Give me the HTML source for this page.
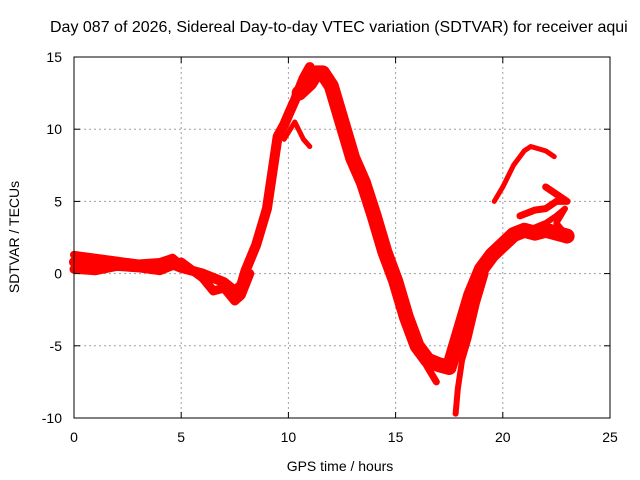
<!DOCTYPE html>
<html><head><meta charset="utf-8"><style>
body{margin:0;background:#fff}
svg{display:block;font-family:"Liberation Sans",sans-serif}
</style></head><body>
<svg id="c" width="640" height="480">
<text x="50" y="32" font-size="16">Day 087 of 2026, Sidereal Day-to-day VTEC variation (SDTVAR) for receiver aqui</text>
<text x="340" y="471" font-size="14" text-anchor="middle">GPS time / hours</text>
<text transform="translate(19,237) rotate(-90)" font-size="14" text-anchor="middle">SDTVAR / TECUs</text>
<g id="grid"></g><g id="data"></g><g id="axes"></g>
</svg>
<script>
const xTicks=[0,5,10,15,20,25];
const yTicks=[-10,-5,0,5,10,15];
const mainTrace=[[0,0.8],[1,0.7],[2,0.6],[3,0.5],[4,0.6],[4.5,0.7],[5,0.4],[6,0],[6.5,-0.3],[7,-0.6],[7.5,-1.2],[7.8,-0.8],[8,0.2],[8.5,2],[9,4.5],[9.3,7.5],[9.5,9.5],[9.8,10.3],[10,11],[10.3,12],[10.7,13.5],[11,14.3]];
const highBand=[[0,1.3],[1,1.1],[2,0.9],[3,0.7],[4,0.8],[4.6,1.1],[5,0.6]];
const descentTrace=[[10.5,12.5],[11,13.2],[11.3,13.9],[11.6,13.9],[12,13],[12.3,11.5],[12.7,9.5],[13,8],[13.5,6.3],[14,4],[14.5,1.5],[15,-0.5],[15.5,-3],[16,-5],[16.5,-6],[17,-6.3],[17.5,-6.5],[18,-4],[18.5,-1.5],[19,0.3],[19.5,1.3],[20,2],[20.5,2.7],[21,3],[21.5,2.8],[22,3],[22.5,2.8],[23,2.6]];
const lowBand=[[0,0.3],[1,0.2],[2,0.5],[3,0.4],[4,0.2],[5,0.8],[6,-0.3],[6.5,-1.2],[7,-1],[7.5,-1.9],[7.8,-1.5],[8.2,0]];
const branch10=[[9.8,9.3],[10.3,10.5],[10.7,9.3],[11,8.8]];
const branchMin=[[16,-5.2],[16.5,-6.5],[16.9,-7.5]];
const branchDip=[[17.8,-9.7],[17.9,-8],[18.1,-6],[18.4,-4.5],[18.8,-2],[19.2,0]];
const upperRight=[[19.6,5],[20,6],[20.5,7.5],[21,8.5],[21.3,8.8],[22,8.5],[22.4,8.1]];
const midRight=[[20.8,4],[21.5,4.4],[22,4.5],[22.5,5],[23,5],[22.5,5.5],[22,6]];
const loopRight=[[21.5,3.2],[22,3.5],[22.5,4],[22.9,4.5],[22.5,3.5],[23,2.6]];
const series=[[mainTrace,10],[highBand,8],[descentTrace,15],[lowBand,9],[branch10,5],[branchMin,7],[branchDip,6],[upperRight,5],[midRight,7],[loopRight,6]];
const X=h=>74+h*536/25, Y=v=>418-(v+10)*361/25;
const ns="http://www.w3.org/2000/svg";
function mk(t,a,p){const e=document.createElementNS(ns,t);for(const k in a)e.setAttribute(k,a[k]);p.appendChild(e);return e;}
const G=document.getElementById('grid'),D=document.getElementById('data'),A=document.getElementById('axes');
xTicks.forEach(t=>{
 if(t>0&&t<25){const l=mk('line',{x1:X(t),x2:X(t),y1:57,y2:418,stroke:'#a0a0a0','stroke-dasharray':'2,3'},G);
 }
 const tk=mk('line',{x1:X(t),x2:X(t),y1:418,y2:412,stroke:'#000'},A);
 
 mk('line',{x1:X(t),x2:X(t),y1:57,y2:63,stroke:'#000'},A);
 const tx=mk('text',{x:X(t),y:442,'font-size':14,'text-anchor':'middle'},A);tx.textContent=t;
 
});
yTicks.forEach(t=>{
 if(t>-10&&t<15){const l=mk('line',{x1:74,x2:610,y1:Y(t),y2:Y(t),stroke:'#a0a0a0','stroke-dasharray':'2,3'},G);
 }
 const tk=mk('line',{x1:74,x2:80,y1:Y(t),y2:Y(t),stroke:'#000'},A);
 
 mk('line',{x1:604,x2:610,y1:Y(t),y2:Y(t),stroke:'#000'},A);
 const tx=mk('text',{x:62,y:Y(t)+5,'font-size':14,'text-anchor':'end'},A);tx.textContent=t;
 
});
const fr=mk('rect',{x:74,y:57,width:536,height:361,fill:'none',stroke:'#000'},A);

series.forEach(([s,w])=>{
 const p=mk('polyline',{points:s.map(d=>X(d[0])+','+Y(d[1])).join(' '),fill:'none',stroke:'#ff0000','stroke-width':w,'stroke-linejoin':'round','stroke-linecap':'round'},D);
 
});
</script>
</body></html>
